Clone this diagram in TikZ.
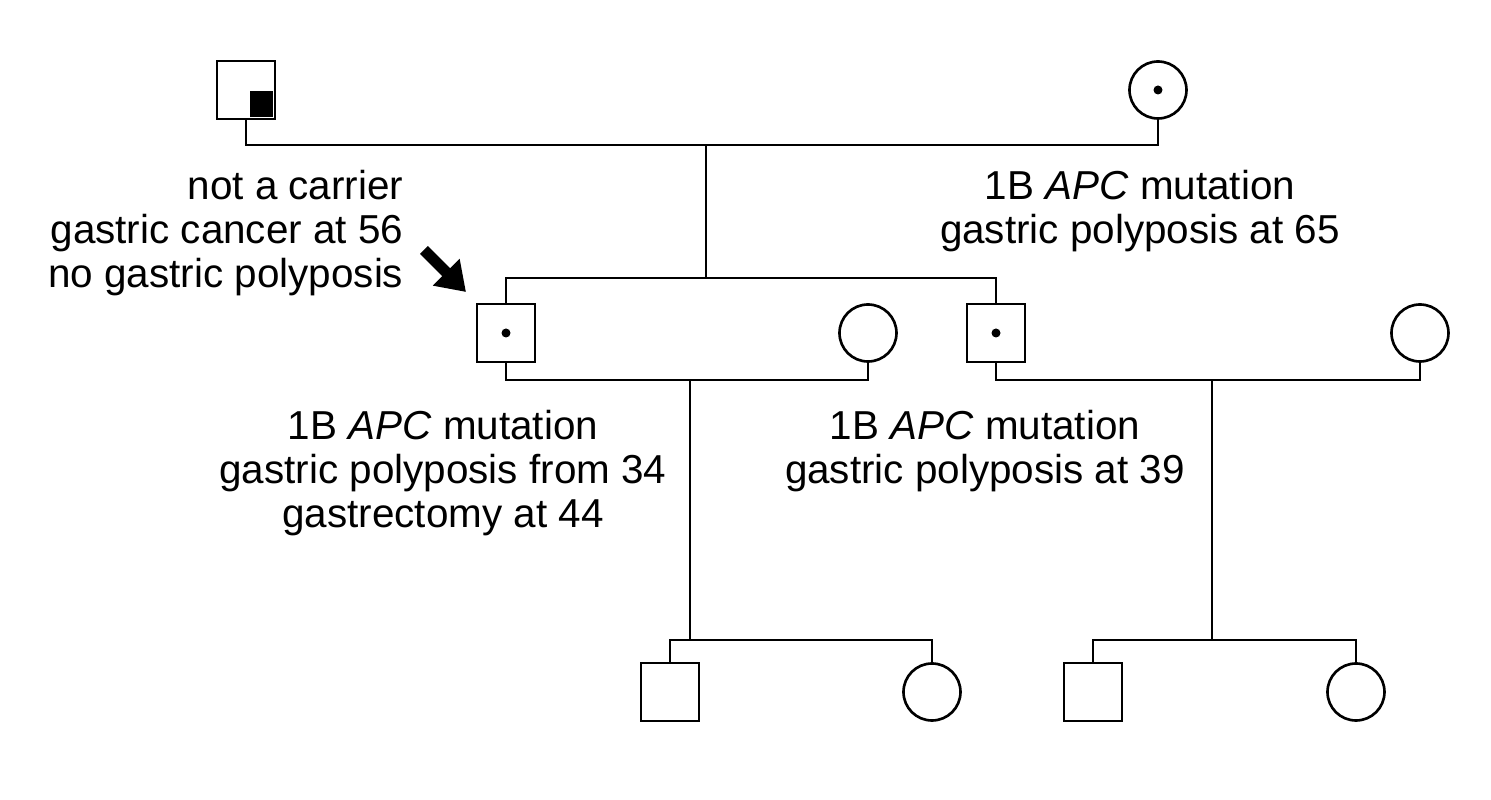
\documentclass[tikz,border=0pt]{standalone}
\usepackage{fontspec}
\setmainfont{Liberation Sans}
\usetikzlibrary{arrows.meta,positioning,calc}
\tikzset{
  male/.style={draw,line width=0.75pt,minimum size=0.58cm,inner sep=0pt},
  female/.style={draw,circle,line width=0.75pt,minimum size=0.57cm,inner sep=0pt},
  carrier/.style={path picture={\fill (path picture bounding box.center) circle (0.045cm);}},
  note/.style={align=center,font=\fontsize{11.5}{12.4}\selectfont,inner sep=0pt},
  link/.style={line width=0.75pt}
}
\begin{document}
\begin{tikzpicture}
  \useasboundingbox (0,0) rectangle (14.91,-8);
  % Generation I
  \node[male]             (gf) at (2.46,-0.90) {};
  \fill ($(gf.center)+(0.04,-0.01)$) rectangle ($(gf.south east)+(-0.03,0.03)$);
  \node[female,carrier]   (gm) at (11.58,-0.90) {};
  % Generation II
  \node[male,carrier]     (p1) at (5.06,-3.33) {};
  \node[female]           (w1) at (8.68,-3.33) {};
  \node[male,carrier]     (p2) at (9.96,-3.33) {};
  \node[female]           (w2) at (14.20,-3.33) {};
  % Generation III
  \node[male]             (c1) at (6.70,-6.92) {};
  \node[female]           (c2) at (9.32,-6.92) {};
  \node[male]             (c3) at (10.93,-6.92) {};
  \node[female]           (c4) at (13.56,-6.92) {};

  % Lines
  \draw[link] (gf.south) |- (11.58,-1.45) -- (gm.south);
  \draw[link] (7.06,-1.45) -- (7.06,-2.78);
  \draw[link] (p1.north) |- (9.96,-2.78) -- (p2.north);
  \draw[link] (p1.south) |- (8.68,-3.80) -- (w1.south);
  \draw[link] (p2.south) |- (14.20,-3.80) -- (w2.south);
  \draw[link] (6.90,-3.80) -- (6.90,-6.40);
  \draw[link] (c1.north) |- (9.32,-6.40) -- (c2.north);
  \draw[link] (12.12,-3.80) -- (12.12,-6.40);
  \draw[link] (c3.north) |- (13.56,-6.40) -- (c4.north);

  % Labels
  \node[note,align=right,anchor=north east] (lgf) at (4.04,-1.70)
    {not a carrier\\gastric cancer at 56\\no gastric polyposis};
  \node[note,anchor=north] (lgm) at (11.40,-1.70)
    {1B \textit{APC} mutation\\gastric polyposis at 65};
  \node[note,anchor=north] (lp1) at (4.43,-4.10)
    {1B \textit{APC} mutation\\gastric polyposis from 34\\gastrectomy at 44};
  \node[note,anchor=north] (lp2) at (9.85,-4.10)
    {1B \textit{APC} mutation\\gastric polyposis at 39};
  \coordinate (pa) at (4.24,-2.50);
  \coordinate (pb) at (4.66,-2.92);
  \draw[line width=3.2pt,-{Triangle[length=0.28cm,width=0.36cm]}] (pa) -- (pb);
\end{tikzpicture}
\end{document}
